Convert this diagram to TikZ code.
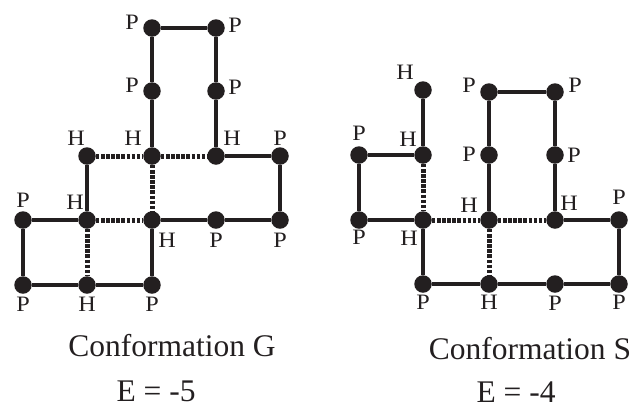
\documentclass[tikz,border=0pt]{standalone}
\usepackage{fontspec}
\setmainfont{Liberation Serif}
\newfontfamily\labfont[FakeStretch=1.1]{Liberation Serif}
\definecolor{ink}{RGB}{35,31,32}
\newcommand\site[4]{%
  \node[dot] (#1) at (#2) {};
  \node[lab] (#1l) at ([shift={(#4)}]#1) {#3};}
\begin{document}
\begin{tikzpicture}[x=1pt,y=-1pt,
  dot/.style={circle,fill=ink,inner sep=0pt,minimum size=17.5pt},
  bond/.style={draw=ink,line width=4.4pt},
  hh/.style={draw=ink,line width=5pt,dash pattern=on 3.5pt off 1.6pt},
  lab/.style={font=\labfont\fontsize{22}{22}\selectfont,text=ink,inner sep=0pt},
  capt/.style={font=\fontsize{31.5}{32}\selectfont,text=ink,inner sep=0pt}]
\useasboundingbox (0,0) rectangle (633,408);
% Conformation G
\site{g1}{87,156}{H}{-11,-18}
\site{g2}{87,220}{H}{-12,-18}
\site{g3}{23,220}{P}{0,-20}
\site{g4}{23,285}{P}{0,19}
\site{g5}{87,285}{H}{0,19}
\site{g6}{152,285}{P}{0,19}
\site{g7}{152,220}{H}{15,20}
\site{g8}{216,220}{P}{0,20}
\site{g9}{280,220}{P}{0,20}
\site{g10}{280,156}{P}{0,-18}
\site{g11}{216,156}{H}{16,-18}
\site{g12}{216,91}{P}{19,-4}
\site{g13}{216,28}{P}{19,-3}
\site{g14}{152,28}{P}{-20,-6}
\site{g15}{152,91}{P}{-20,-6}
\site{g16}{152,156}{H}{-19,-18}
\draw[bond] (g1)--(g2); \draw[bond] (g2)--(g3); \draw[bond] (g3)--(g4);
\draw[bond] (g4)--(g5); \draw[bond] (g5)--(g6); \draw[bond] (g6)--(g7);
\draw[bond] (g7)--(g8); \draw[bond] (g8)--(g9); \draw[bond] (g9)--(g10);
\draw[bond] (g10)--(g11); \draw[bond] (g11)--(g12); \draw[bond] (g12)--(g13);
\draw[bond] (g13)--(g14); \draw[bond] (g14)--(g15); \draw[bond] (g15)--(g16);
\draw[hh] (g1)--(g16); \draw[hh] (g16)--(g11); \draw[hh] (g16)--(g7);
\draw[hh] (g2)--(g7); \draw[hh] (g2)--(g5);
% Conformation S
\site{s1}{423,90}{H}{-18,-18}
\site{s2}{423,155}{H}{-15,-16}
\site{s3}{359,155}{P}{0,-22}
\site{s4}{359,220}{P}{0,17}
\site{s5}{423,220}{H}{-14,18}
\site{s6}{423,284}{P}{0,18}
\site{s7}{489,284}{H}{0,18}
\site{s8}{555,284}{P}{0,19}
\site{s9}{619,284}{P}{0,18}
\site{s10}{619,220}{P}{0,-23}
\site{s11}{555,220}{H}{14,-17}
\site{s12}{555,155}{P}{19,0}
\site{s13}{555,92}{P}{20,-7}
\site{s14}{489,92}{P}{-20,-7}
\site{s15}{489,155}{P}{-20,-1}
\site{s16}{489,220}{H}{-20,-15}
\draw[bond] (s1)--(s2); \draw[bond] (s2)--(s3); \draw[bond] (s3)--(s4);
\draw[bond] (s4)--(s5); \draw[bond] (s5)--(s6); \draw[bond] (s6)--(s7);
\draw[bond] (s7)--(s8); \draw[bond] (s8)--(s9); \draw[bond] (s9)--(s10);
\draw[bond] (s10)--(s11); \draw[bond] (s11)--(s12); \draw[bond] (s12)--(s13);
\draw[bond] (s13)--(s14); \draw[bond] (s14)--(s15); \draw[bond] (s15)--(s16);
\draw[hh] (s2)--(s5); \draw[hh] (s5)--(s16); \draw[hh] (s16)--(s11);
\draw[hh] (s16)--(s7);
% captions
\node[capt] (cg) at (172,346) {Conformation G};
\node[capt] (eg) at (156,391) {E = -5};
\node[capt] (cs) at (530,349) {Conformation S};
\node[capt] (es) at (516,392) {E = -4};
\end{tikzpicture}
\end{document}
